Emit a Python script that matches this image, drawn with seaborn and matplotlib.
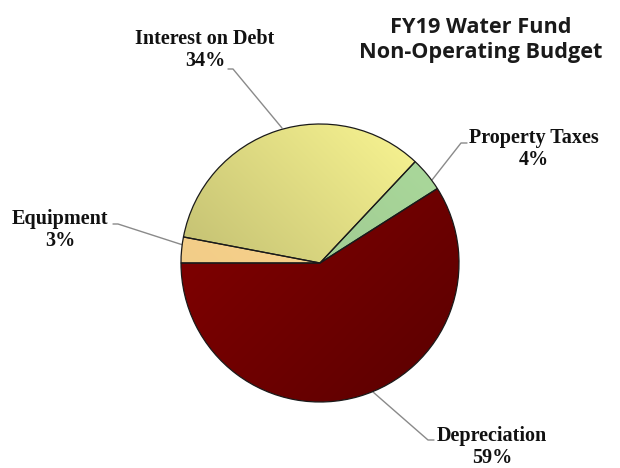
import numpy as np
import matplotlib
matplotlib.use("Agg")
import matplotlib.pyplot as plt
import matplotlib.colors as mcolors
import seaborn as sns

sns.set_theme(style="white")

# Budget shares (percent), drawn counterclockwise from the left edge
categories = ["Depreciation", "Property Taxes", "Interest on Debt", "Equipment"]
shares = [59, 4, 34, 3]
colors = ["#7C0000", "#A9D79A", "#EFEB8C", "#FDD68E"]

W, H = 620, 468
fig = plt.figure(figsize=(W / 100, H / 100), dpi=100)
ax = fig.add_axes([0, 0, 1, 1])

cx, cy, r = 320, H - 263, 139

wedges, _ = ax.pie(shares, colors=colors, startangle=180, counterclock=True,
                   center=(cx, cy), radius=r, frame=True,
                   wedgeprops=dict(edgecolor="#1a1a1a", linewidth=0.9))
ax.set_xlim(0, W)
ax.set_ylim(0, H)
ax.set_aspect("equal")
ax.axis("off")

# soft shading inside each slice: (direction of light, dark factor, light factor)
shading = [((-1, 1), 0.78, 1.05), ((1, 1), 0.9, 1.0),
           ((1, 1), 0.78, 1.02), ((1, 1), 0.95, 1.0)]
n = 300
xs = np.linspace(cx - r, cx + r, n)
ys = np.linspace(cy - r, cy + r, n)
X, Y = np.meshgrid(xs, ys)
for w, col, (d, lo, hi) in zip(wedges, colors, shading):
    dv = np.array(d, float) / np.hypot(*d)
    t = ((X - cx) * dv[0] + (Y - cy) * dv[1]) / r
    t = (t + 1) / 2
    f = lo + (hi - lo) * t
    base = np.array(mcolors.to_rgb(col))
    img = np.clip(base[None, None, :] * f[..., None], 0, 1)
    im = ax.imshow(img, extent=(cx - r, cx + r, cy - r, cy + r),
                   origin="lower", zorder=w.get_zorder() + 0.1, interpolation="bilinear")
    im.set_clip_path(w)
    w.set_facecolor("none")
    w.set_zorder(w.get_zorder() + 0.2)

lab_font = dict(family="Liberation Serif", fontweight="bold", fontsize=14.5,
                color="#111111", ha="center", va="center", linespacing=1.12)

def px(x, y):
    return (x, H - y)

# labels with leader lines (pixel coordinates measured from the top)
labels = {
    "Interest on Debt": ((205, 50), [(228, 69), (233, 69), (282, 128)]),
    "Equipment": ((60, 230), [(113, 224), (118, 224), (183, 245)]),
    "Property Taxes": ((534, 149), [(467, 143), (461, 143), (432, 180)]),
    "Depreciation": ((492, 447), [(434, 440), (428, 440), (373, 392)]),
}
for name, val in zip(categories, shares):
    (tx, ty), pts = labels[name]
    ax.text(*px(tx, ty), f"{name}\n{val}%", **lab_font)
    lx, ly = zip(*[px(*p) for p in pts])
    ax.plot(lx, ly, color="#8a8a8a", lw=1.0, zorder=1)

ax.text(*px(481, 40), "FY19 Water Fund\nNon-Operating Budget",
        family="Open Sans", fontweight="bold", fontsize=15.6, color="#1a1a1a",
        ha="center", va="center", linespacing=1.3)

fig.savefig("out.png", dpi=100, facecolor="white")
